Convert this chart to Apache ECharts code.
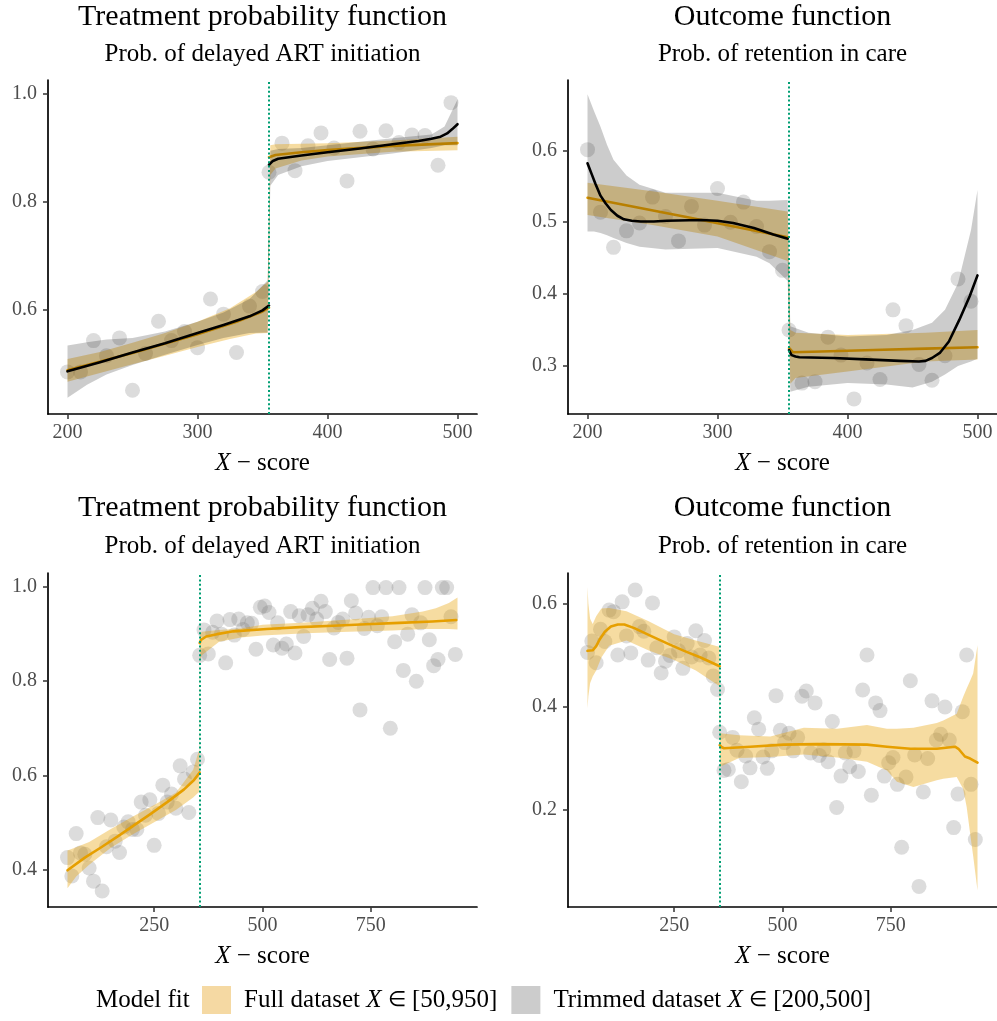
<!DOCTYPE html>
<html><head><meta charset="utf-8">
<script src="https://cdn.jsdelivr.net/npm/echarts@6/dist/echarts.min.js"></script>
<style>html,body{margin:0;padding:0;background:#fff}#c{width:997px;height:1021px}</style>
</head><body><div id="c"></div>
<script>
const FONT = 'Liberation Serif';
const cutoff = 355;

const panelTitles = ['Treatment probability function', 'Outcome function', 'Treatment probability function', 'Outcome function'];
const panelSubtitles = ['Prob. of delayed ART initiation', 'Prob. of retention in care', 'Prob. of delayed ART initiation', 'Prob. of retention in care'];
const axisTitle = '{i|X} \u2212 score';
const legendTitle = 'Model fit';
const legendLabels = { Full: 'Full dataset {i|X} {e|\u2208} [50,950]', Trimmed: 'Trimmed dataset {i|X} {e|\u2208} [200,500]' };

// axis ranges and tick labels
const xRanges = [[185, 515], [185, 515], [5, 995], [5, 995]];
const yRanges = [[0.407, 1.026], [0.233, 0.698], [0.32, 1.03], [0.011, 0.659]];
const xTicks = [[200, 300, 400, 500], [200, 300, 400, 500], [250, 500, 750], [250, 500, 750]];
const yTicks = [[0.6, 0.8, 1.0], [0.3, 0.4, 0.5, 0.6], [0.4, 0.6, 0.8, 1.0], [0.2, 0.4, 0.6]];

// ---------- trimmed dataset (top panels) ----------
const trimX = [200,210,220,230,240,250,260,270,280,290,300,310,320,330,340,350,355,365,375,385,395,405,415,425,435,445,455,465,475,485,495];
const trimTreat = [0.485,0.485,0.543,0.515,0.548,0.451,0.519,0.579,0.543,0.560,0.530,0.620,0.592,0.521,0.607,0.634,0.855,0.909,0.858,0.904,0.928,0.900,0.839,0.931,0.898,0.932,0.910,0.924,0.923,0.868,0.984];
const trimOutcome = [0.601,0.514,0.465,0.488,0.499,0.535,0.508,0.474,0.522,0.496,0.547,0.500,0.528,0.494,0.459,0.433,0.350,0.276,0.278,0.340,0.315,0.254,0.304,0.281,0.378,0.356,0.302,0.280,0.314,0.421,0.390];

// ---------- full dataset (bottom panels) ----------
const fullX = [50,60,70,80,90,100,110,120,130,140,150,160,170,180,190,200,210,220,230,240,250,260,270,280,290,300,310,320,330,340,350,
  355,365,375,385,395,405,415,425,435,445,455,465,475,485,495,505,515,525,535,545,555,565,575,585,595,605,615,625,635,645,655,665,675,685,
  695,705,715,725,735,745,755,765,775,785,795,805,815,825,835,845,855,865,875,885,895,905,915,925,935,945];
const fullTreat = [0.425,0.386,0.476,0.435,0.432,0.403,0.375,0.510,0.354,0.448,0.505,0.460,0.436,0.490,0.501,
  0.485,0.485,0.543,0.515,0.548,0.451,0.519,0.579,0.543,0.560,0.530,0.620,0.592,0.521,0.607,0.634,
  0.855,0.909,0.858,0.904,0.928,0.900,0.839,0.931,0.898,0.932,0.910,0.924,0.923,0.868,
  0.957,0.960,0.946,0.877,0.924,0.870,0.879,0.948,0.860,0.939,
  0.895,0.941,0.955,0.932,0.970,0.948,0.846,0.913,0.925,0.932,
  0.849,0.971,0.945,0.739,0.912,0.936,0.999,0.918,0.937,0.999,
  0.700,0.884,0.999,0.823,0.900,0.941,0.800,0.924,0.999,0.888,
  0.833,0.846,0.999,0.999,0.937,0.857];
const fullOutcome = [0.505,0.527,0.485,0.550,0.526,0.587,0.584,0.500,0.603,0.537,0.504,0.626,0.555,0.546,0.490,
  0.601,0.514,0.465,0.488,0.499,0.535,0.508,0.474,0.522,0.496,0.547,0.500,0.528,0.494,0.459,0.433,
  0.350,0.276,0.278,0.340,0.315,0.254,0.304,0.281,0.378,0.356,0.302,0.280,0.314,0.421,
  0.354,0.330,0.348,0.314,0.340,0.420,0.430,0.310,0.407,0.305,
  0.316,0.293,0.371,0.204,0.265,0.310,0.283,0.314,0.274,0.432,
  0.500,0.228,0.407,0.392,0.265,0.291,0.301,0.249,0.127,0.263,
  0.450,0.306,0.051,0.234,0.299,0.411,0.335,0.346,0.399,0.335,
  0.165,0.230,0.390,0.500,0.249,0.142];

// ---------- fitted curves: top-left (treatment, x in [200,500]) ----------
const tlFullLeftX = [200,250,300,330,350,355];
const tlFullLeftY = [0.488,0.520,0.555,0.578,0.597,0.604];
const tlFullRightX = [355,360,380,400,450,500];
const tlFullRightY = [0.883,0.887,0.892,0.896,0.904,0.909];
const tlTrimLeftX = [200,225,250,275,300,320,340,350,355];
const tlTrimLeftY = [0.486,0.503,0.521,0.538,0.557,0.572,0.588,0.599,0.608];
const tlTrimRightX = [355,358,362,380,400,425,450,470,480,487,492,496,500];
const tlTrimRightY = [0.869,0.876,0.880,0.886,0.892,0.899,0.907,0.913,0.917,0.921,0.927,0.935,0.944];
const tlFullBandX  = [200,225,250,275,300,325,345,354,356,360,380,400,450,500];
const tlFullBandLo = [0.467,0.483,0.499,0.515,0.531,0.546,0.556,0.557,0.850,0.862,0.877,0.884,0.893,0.896];
const tlFullBandHi = [0.509,0.522,0.539,0.557,0.578,0.603,0.633,0.652,0.905,0.907,0.908,0.909,0.914,0.921];
const tlTrimBandX  = [200,215,230,250,275,300,320,340,354,356,362,380,400,450,480,490,500];
const tlTrimBandLo = [0.437,0.461,0.480,0.498,0.517,0.535,0.548,0.557,0.558,0.830,0.850,0.866,0.876,0.890,0.900,0.905,0.905];
const tlTrimBandHi = [0.534,0.540,0.545,0.548,0.560,0.578,0.595,0.620,0.655,0.895,0.898,0.900,0.905,0.918,0.925,0.940,0.990];

// ---------- fitted curves: top-right (outcome, x in [200,500]) ----------
const trFullLeftX = [200,280,354];
const trFullLeftY = [0.534,0.506,0.479];
const trFullRightX = [355,358,380,420,460,500];
const trFullRightY = [0.325,0.319,0.320,0.322,0.324,0.326];
const trTrimLeftX = [200,203,206,210,214,218,223,228,234,241,251,261,287,300,312,328,343,354];
const trTrimLeftY = [0.582,0.568,0.554,0.537,0.526,0.517,0.509,0.504,0.502,0.501,0.501,0.502,0.503,0.502,0.499,0.492,0.483,0.477];
const trTrimRightX = [355,357,360,363,389,414,440,455,460,465,471,478,486,494,500];
const trTrimRightY = [0.322,0.315,0.313,0.312,0.311,0.309,0.307,0.306,0.307,0.311,0.318,0.334,0.364,0.397,0.426];
const trFullBandX  = [200,250,300,354,356,360,400,460,500];
const trFullBandLo = [0.510,0.496,0.480,0.446,0.275,0.283,0.292,0.306,0.309];
const trFullBandHi = [0.555,0.543,0.530,0.515,0.350,0.346,0.343,0.346,0.350];
const trTrimBandX  = [200,205,210,215,220,230,240,260,300,330,340,354,356,370,400,430,450,465,475,485,495,500];
const trTrimBandLo = [0.487,0.487,0.485,0.482,0.478,0.471,0.466,0.462,0.464,0.452,0.443,0.418,0.264,0.271,0.276,0.274,0.270,0.278,0.288,0.300,0.306,0.310];
const trTrimBandHi = [0.678,0.655,0.633,0.608,0.587,0.565,0.552,0.541,0.541,0.530,0.530,0.531,0.355,0.346,0.341,0.343,0.350,0.360,0.378,0.415,0.489,0.545];

// ---------- fitted curves: bottom-left (treatment, full) ----------
const blLeftX = [50,90,128,166,204,242,280,319,342,355];
const blLeftY = [0.398,0.425,0.447,0.470,0.494,0.518,0.543,0.570,0.590,0.606];
const blRightX = [355,358,361,370,395,433,510,586,663,739,816,892,947];
const blRightY = [0.881,0.888,0.892,0.895,0.900,0.906,0.911,0.915,0.918,0.921,0.924,0.927,0.930];
const blBandX  = [50,70,100,150,200,250,300,340,354,356,360,400,450,500,600,700,800,870,900,930,950];
const blBandLo = [0.360,0.385,0.410,0.446,0.474,0.500,0.526,0.553,0.565,0.845,0.855,0.884,0.893,0.897,0.902,0.905,0.908,0.911,0.911,0.911,0.910];
const blBandHi = [0.440,0.447,0.458,0.486,0.512,0.537,0.563,0.612,0.655,0.900,0.905,0.909,0.912,0.920,0.925,0.931,0.938,0.948,0.955,0.966,0.978];

// ---------- fitted curves: bottom-right (outcome, full) ----------
const brLeftX = [50,62,70,78,90,104,120,135,158,196,235,273,311,355];
const brLeftY = [0.508,0.509,0.517,0.530,0.545,0.555,0.559,0.559,0.552,0.537,0.522,0.508,0.495,0.478];
const brRightX = [355,360,365,426,503,580,695,741,795,856,898,906,921,933,950];
const brRightY = [0.325,0.321,0.319,0.322,0.326,0.327,0.326,0.322,0.318,0.318,0.322,0.318,0.303,0.299,0.291];
const brBandX  = [50,52,56,62,70,82,100,140,190,250,300,354,356,400,472,549,626,695,741,764,802,856,871,902,917,925,932,940,950];
const brBandLo = [0.396,0.420,0.445,0.458,0.470,0.495,0.518,0.528,0.509,0.490,0.470,0.440,0.283,0.300,0.302,0.307,0.301,0.293,0.276,0.254,0.244,0.257,0.260,0.263,0.240,0.205,0.160,0.110,0.043];
const brBandHi = [0.632,0.600,0.570,0.560,0.575,0.590,0.591,0.585,0.566,0.540,0.528,0.516,0.348,0.344,0.342,0.359,0.357,0.364,0.357,0.357,0.359,0.368,0.373,0.386,0.419,0.435,0.448,0.464,0.519];

// ---------- styles ----------
const GOLD = '#E69F00';
const GOLD_BAND = 'rgba(230,159,0,0.37)';
const GRAY_BAND = 'rgba(0,0,0,0.2)';
const POINT = 'rgba(110,110,110,0.3)';
const VLINE = '#009E73';

const grids = [
  { left: 48, top: 80, width: 429, height: 334 },
  { left: 568, top: 80, width: 429, height: 334 },
  { left: 48, top: 573, width: 429, height: 334 },
  { left: 568, top: 573, width: 429, height: 334 }
];

function pairs(xs, ys) { return xs.map((x, i) => [x, ys[i]]); }

function pointsSeries(xs, ys, g) {
  return {
    type: 'scatter', xAxisIndex: g, yAxisIndex: g, data: pairs(xs, ys),
    symbol: 'circle', symbolSize: 15, itemStyle: { color: POINT }, silent: true, z: 1,
    markLine: {
      silent: true, symbol: 'none', z: 6, animation: false,
      label: { show: false },
      lineStyle: { color: VLINE, type: [2, 2.4], width: 2 },
      data: [{ xAxis: cutoff }]
    }
  };
}

function bandSeries(name, xs, lo, hi, color, g, z) {
  return {
    type: 'custom', name: name, xAxisIndex: g, yAxisIndex: g, z: z, silent: true,
    data: xs.map((x, i) => [x, lo[i], hi[i]]),
    encode: { x: 0, y: [1, 2] },
    renderItem: function (params, api) {
      if (params.dataIndex !== 0) return null;
      const pts = [];
      for (let i = 0; i < xs.length; i++) pts.push(api.coord([xs[i], hi[i]]));
      for (let i = xs.length - 1; i >= 0; i--) pts.push(api.coord([xs[i], lo[i]]));
      return { type: 'polygon', shape: { points: pts }, style: { fill: color, stroke: null } };
    }
  };
}

function lineSeries(xs, ys, color, g, z) {
  return {
    type: 'line', xAxisIndex: g, yAxisIndex: g, data: pairs(xs, ys), z: z,
    showSymbol: false, symbol: 'none', smooth: false, silent: true,
    lineStyle: { color: color, width: 2.6, join: 'round', cap: 'round' }
  };
}

const series = [
  // top-left
  pointsSeries(trimX, trimTreat, 0),
  bandSeries('Full', tlFullBandX, tlFullBandLo, tlFullBandHi, GOLD_BAND, 0, 2),
  lineSeries(tlFullLeftX, tlFullLeftY, GOLD, 0, 3),
  lineSeries(tlFullRightX, tlFullRightY, GOLD, 0, 3),
  bandSeries('Trimmed', tlTrimBandX, tlTrimBandLo, tlTrimBandHi, GRAY_BAND, 0, 4),
  lineSeries(tlTrimLeftX, tlTrimLeftY, '#000', 0, 5),
  lineSeries(tlTrimRightX, tlTrimRightY, '#000', 0, 5),
  // top-right
  pointsSeries(trimX, trimOutcome, 1),
  bandSeries('Full', trFullBandX, trFullBandLo, trFullBandHi, GOLD_BAND, 1, 2),
  lineSeries(trFullLeftX, trFullLeftY, GOLD, 1, 3),
  lineSeries(trFullRightX, trFullRightY, GOLD, 1, 3),
  bandSeries('Trimmed', trTrimBandX, trTrimBandLo, trTrimBandHi, GRAY_BAND, 1, 4),
  lineSeries(trTrimLeftX, trTrimLeftY, '#000', 1, 5),
  lineSeries(trTrimRightX, trTrimRightY, '#000', 1, 5),
  // bottom-left
  pointsSeries(fullX, fullTreat, 2),
  bandSeries('Full', blBandX, blBandLo, blBandHi, GOLD_BAND, 2, 2),
  lineSeries(blLeftX, blLeftY, GOLD, 2, 3),
  lineSeries(blRightX, blRightY, GOLD, 2, 3),
  // bottom-right
  pointsSeries(fullX, fullOutcome, 3),
  bandSeries('Full', brBandX, brBandLo, brBandHi, GOLD_BAND, 3, 2),
  lineSeries(brLeftX, brLeftY, GOLD, 3, 3),
  lineSeries(brRightX, brRightY, GOLD, 3, 3)
];

const richItalic = {
  i: { fontStyle: 'italic', fontFamily: FONT, fontSize: 25, color: '#000' },
  e: { fontFamily: FONT, fontSize: 21, color: '#000' }
};

const xAxes = grids.map((g, i) => ({
  type: 'value', gridIndex: i, min: xRanges[i][0], max: xRanges[i][1],
  splitLine: { show: false },
  axisLine: { show: true, onZero: false, lineStyle: { color: '#000', width: 1.7 } },
  axisTick: { show: true, length: 5, customValues: xTicks[i], lineStyle: { color: '#333', width: 1.5 } },
  axisLabel: { customValues: xTicks[i], margin: 9, fontFamily: FONT, fontSize: 20, color: '#4D4D4D', formatter: v => String(v) },
  name: axisTitle, nameLocation: 'middle', nameGap: 37,
  nameTextStyle: { fontFamily: FONT, fontSize: 25, color: '#000', rich: richItalic }
}));

const yAxes = grids.map((g, i) => ({
  type: 'value', gridIndex: i, min: yRanges[i][0], max: yRanges[i][1],
  splitLine: { show: false },
  axisLine: { show: true, onZero: false, lineStyle: { color: '#000', width: 1.7 } },
  axisTick: { show: true, length: 5, customValues: yTicks[i], lineStyle: { color: '#333', width: 1.5 } },
  axisLabel: { customValues: yTicks[i], margin: 11, fontFamily: FONT, fontSize: 20, color: '#4D4D4D', formatter: v => v.toFixed(1) }
}));

const titles = [];
grids.forEach((g, i) => {
  const cx = g.left + g.width / 2;
  titles.push({ text: panelTitles[i], left: cx, top: i < 2 ? 2 : 493, textAlign: 'center', padding: 0,
    textStyle: { fontFamily: FONT, fontSize: 30, fontWeight: 'normal', color: '#000' } });
  titles.push({ text: panelSubtitles[i], left: cx, top: i < 2 ? 41.5 : 533.5, textAlign: 'center', padding: 0,
    textStyle: { fontFamily: FONT, fontSize: 25, fontWeight: 'normal', color: '#000' } });
});

const chart = echarts.init(document.getElementById('c'), null, { renderer: 'canvas' });
chart.setOption({
  backgroundColor: '#fff',
  animation: false,
  title: titles,
  grid: grids,
  xAxis: xAxes,
  yAxis: yAxes,
  legend: {
    left: 202, top: 986, padding: 0, itemWidth: 29, itemHeight: 28, itemGap: 14, icon: 'rect',
    selectedMode: false,
    data: [{ name: 'Full', itemStyle: { color: '#F5D9A3' } }, { name: 'Trimmed', itemStyle: { color: '#CCCCCC' } }],
    formatter: n => legendLabels[n],
    textStyle: { fontFamily: FONT, fontSize: 25, color: '#000', padding: [0, 0, 0, 8], rich: richItalic }
  },
  graphic: [{ type: 'text', x: 96, y: 1000, style: { text: legendTitle, fontFamily: FONT, fontSize: 25, fill: '#000', verticalAlign: 'middle' } }],
  series: series
});
</script></body></html>
